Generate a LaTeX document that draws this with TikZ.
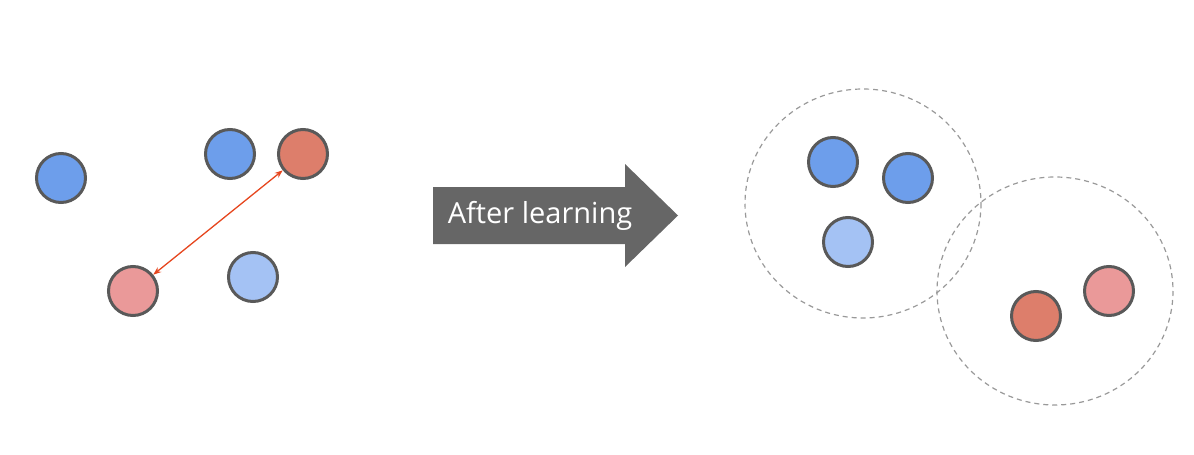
\documentclass[tikz,border=0pt]{standalone}
\usepackage{fontspec}
\newfontfamily\arrowfont{Open Sans}
\usetikzlibrary{arrows.meta}
\definecolor{blueA}{HTML}{6D9EEB}
\definecolor{blueL}{HTML}{A4C2F4}
\definecolor{redA}{HTML}{DD7E6B}
\definecolor{pinkA}{HTML}{EA9999}
\definecolor{rimgray}{HTML}{595959}
\definecolor{dashgray}{HTML}{999999}
\definecolor{arrgray}{HTML}{666666}
\definecolor{linkred}{HTML}{E6461E}
\tikzset{
  dot/.style={circle, draw=rimgray, line width=3pt, minimum size=49pt, inner sep=0pt},
  cluster/.style={draw=dashgray, dashed, dash pattern=on 5pt off 4pt, line width=1.2pt},
  link/.style={draw=linkred, line width=1.3pt, {Stealth[length=8pt,width=6pt]}-{Stealth[length=8pt,width=6pt]}},
  bigarrow/.style={fill=arrgray, draw=none},
  arrowlabel/.style={text=white, font=\arrowfont\fontsize{29}{34}\selectfont, inner sep=0pt}
}
\begin{document}
\begin{tikzpicture}[x=1pt,y=-1pt]
\useasboundingbox (0,0) rectangle (1194,455);
% left scattered points
\node[dot, fill=blueA] (l1) at (61,178) {};
\node[dot, fill=blueA] (l2) at (230,154) {};
\node[dot, fill=redA] (l3) at (303,154) {};
\node[dot, fill=pinkA] (l4) at (133,291) {};
\node[dot, fill=blueL] (l5) at (253,277) {};
\draw[link] (l3) -- (l4);
% big arrow
\path[bigarrow] (433,187) -- (625,187) -- (625,164) -- (678,215.5) -- (625,267) -- (625,244) -- (433,244) -- cycle;
\node[arrowlabel] (lbl) at (540,215.5) {After learning};
% clusters
\draw[cluster] (863,203.5) ellipse [x radius=118, y radius=114.5];
\draw[cluster] (1055,291) ellipse [x radius=118, y radius=114];
\node[dot, fill=blueA] (r1) at (833,162) {};
\node[dot, fill=blueA] (r2) at (908,178) {};
\node[dot, fill=blueL] (r3) at (848,242) {};
\node[dot, fill=redA] (r4) at (1036,316) {};
\node[dot, fill=pinkA] (r5) at (1109,291) {};
\end{tikzpicture}
\end{document}
